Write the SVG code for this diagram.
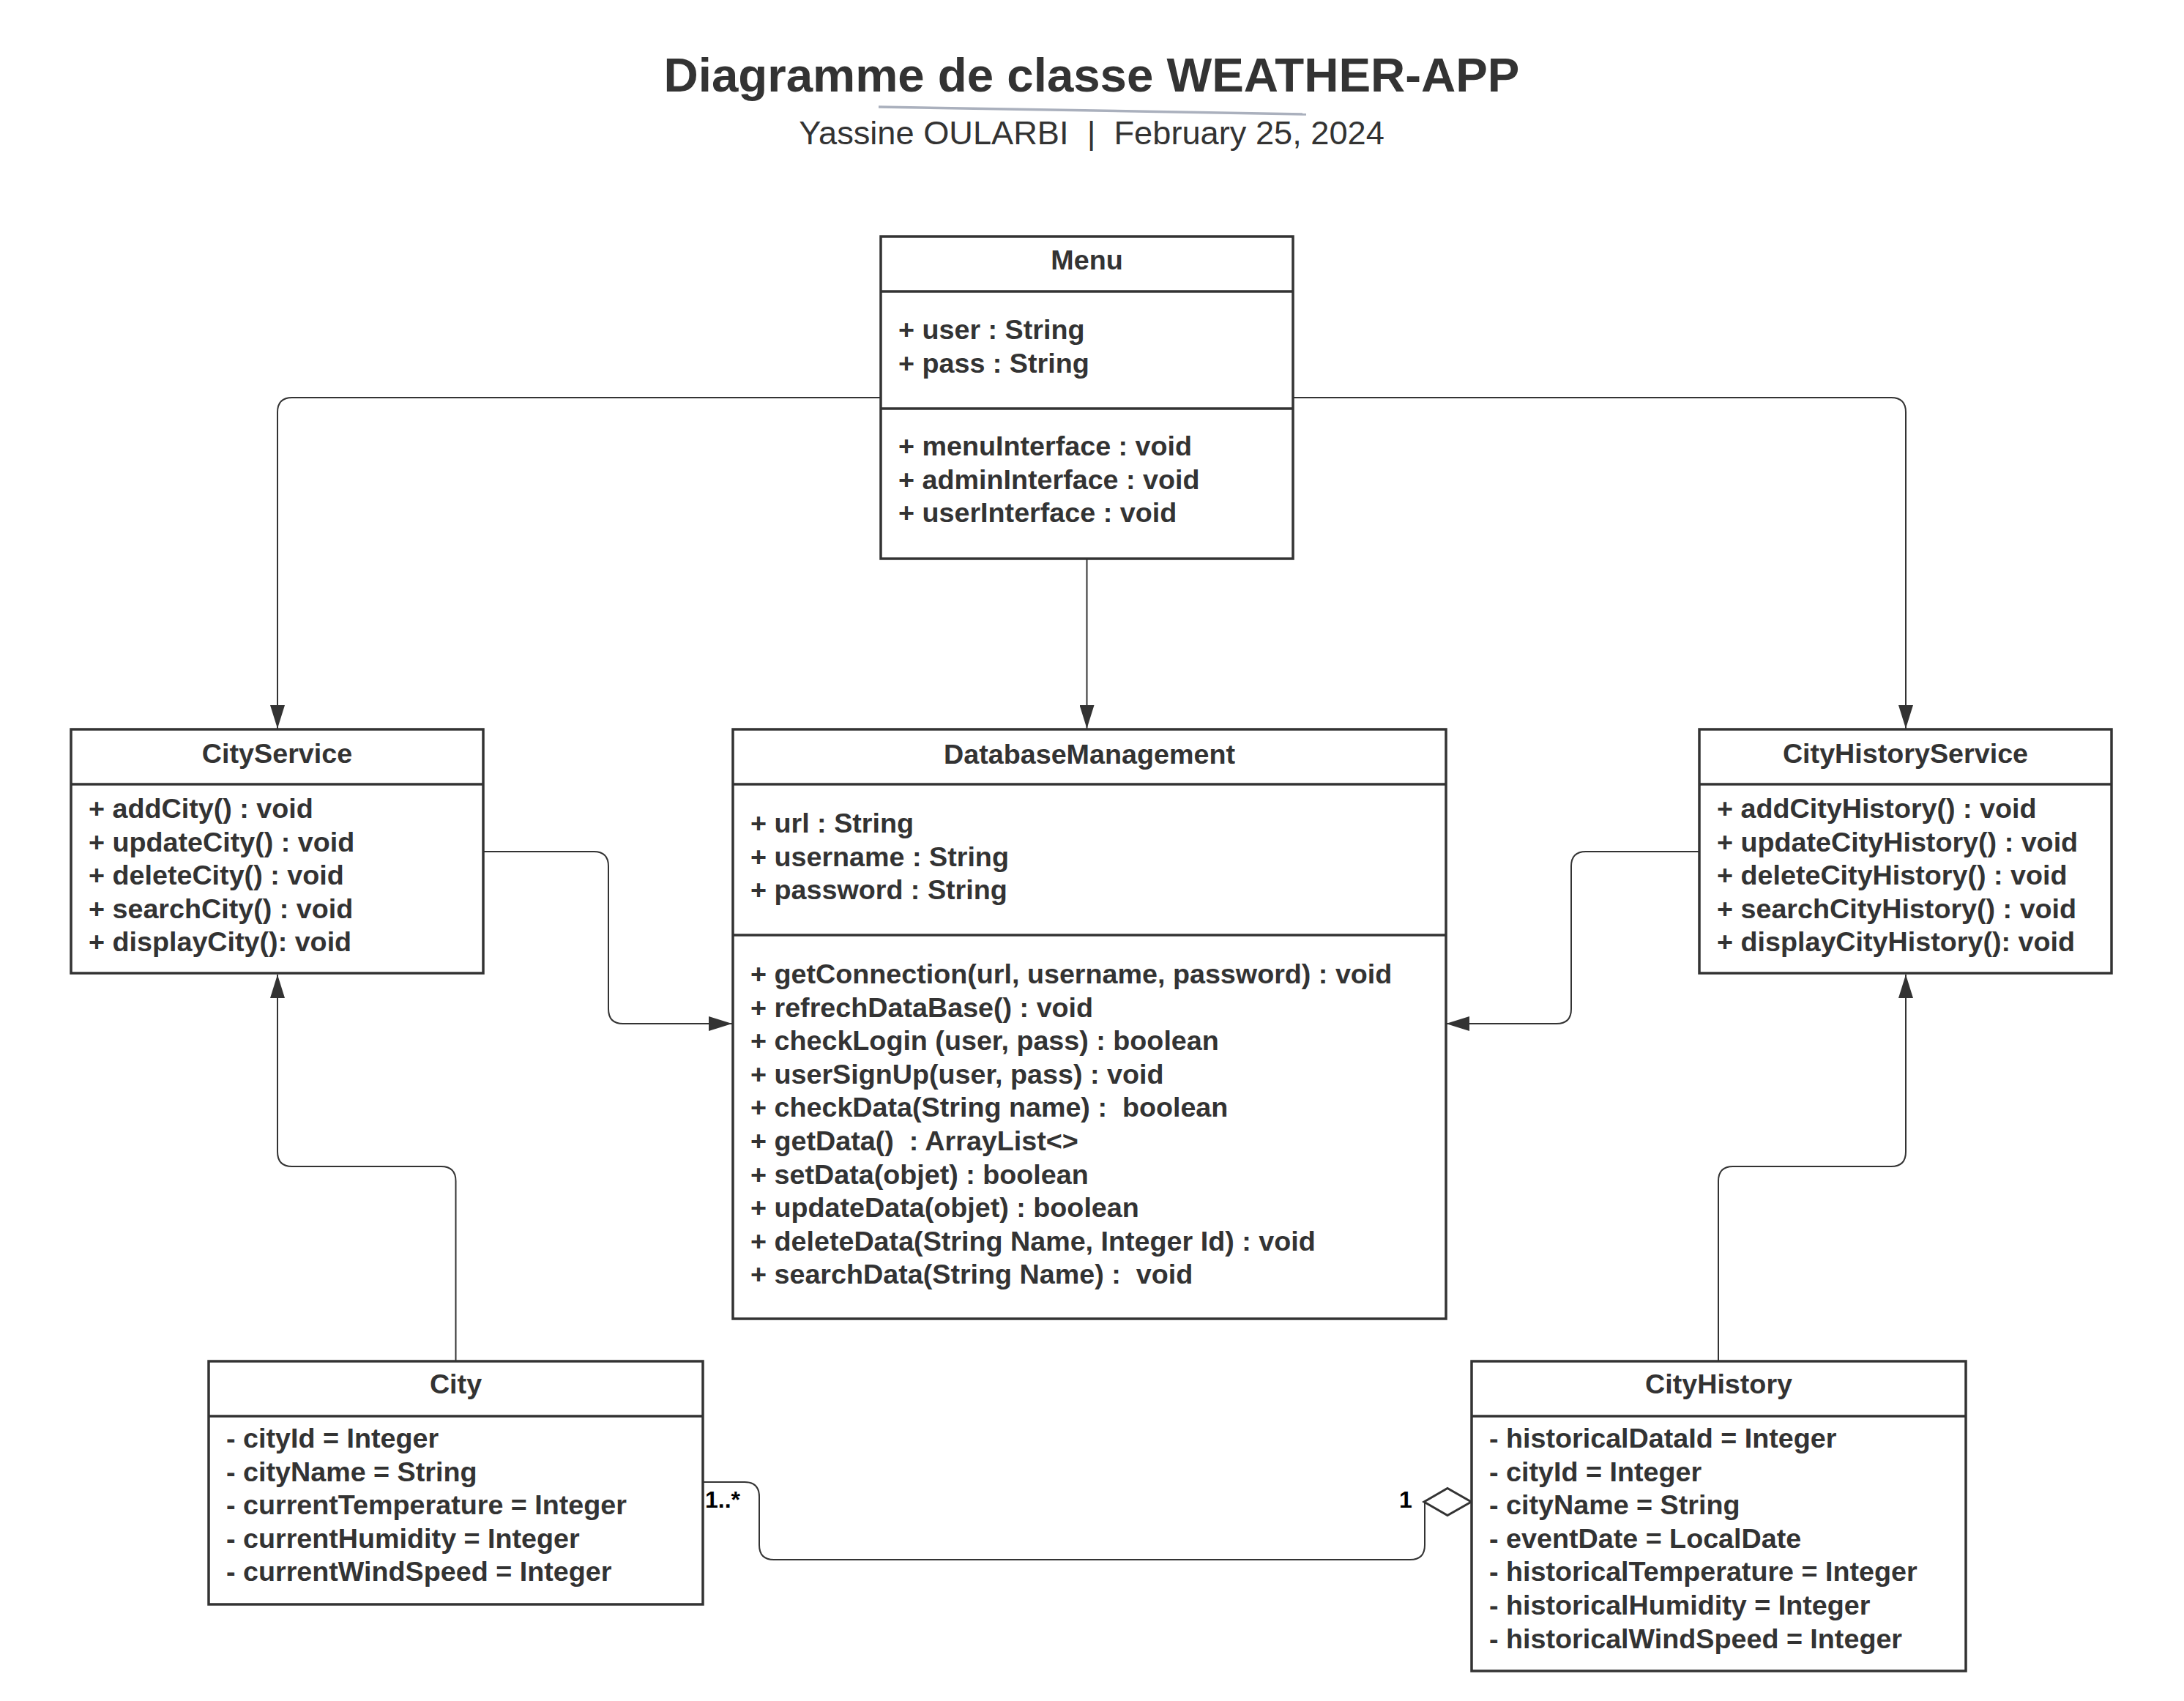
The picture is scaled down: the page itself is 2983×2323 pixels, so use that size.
<svg xmlns="http://www.w3.org/2000/svg" width="2983" height="2323" viewBox="0 0 2983 2323">
<style>
.box{fill:#ffffff;stroke:#333333;stroke-width:3.5}
.div{stroke:#333333;stroke-width:3.5}
.t{font-family:"Liberation Sans",Arial,sans-serif;font-weight:bold;font-size:37.7px;fill:#333333;white-space:pre}
.h{text-anchor:middle}
.con{fill:none;stroke:#333333;stroke-width:2}
.lbl{font-family:"Liberation Sans",Arial,sans-serif;font-weight:bold;font-size:32px;fill:#000000}
</style>
<defs>
<marker id="arr" viewBox="0 0 32 20" refX="32" refY="10" markerWidth="32" markerHeight="20" markerUnits="userSpaceOnUse" orient="auto">
<path d="M0,0 L32,10 L0,20 z" fill="#333333"/>
</marker>
</defs>
<rect width="2983" height="2323" fill="#ffffff"/>
<g id="title">
<text x="1491" y="125" text-anchor="middle" style="font-family:'Liberation Sans',Arial,sans-serif;font-weight:bold;font-size:65.4px;fill:#333333">Diagramme de classe WEATHER-APP</text>
<line x1="1200" y1="146" x2="1784" y2="156" stroke="#aab0bd" stroke-width="3.5"/>
<text x="1491" y="197" text-anchor="middle" style="font-family:'Liberation Sans',Arial,sans-serif;font-size:45.2px;fill:#333333;white-space:pre">Yassine OULARBI  |  February 25, 2024</text>
</g>
<g id="connectors">
<path class="con" d="M1203,543 H399 Q379,543 379,563 V995" marker-end="url(#arr)"/>
<path class="con" d="M1766,543 H2583 Q2603,543 2603,563 V995" marker-end="url(#arr)"/>
<path class="con" d="M1484.5,763 V995" marker-end="url(#arr)"/>
<path class="con" d="M660,1163 H811 Q831,1163 831,1183 V1378 Q831,1398 851,1398 H1000" marker-end="url(#arr)"/>
<path class="con" d="M2321,1163 H2166 Q2146,1163 2146,1183 V1378 Q2146,1398 2126,1398 H1975" marker-end="url(#arr)"/>
<path class="con" d="M622.5,1859 V1613 Q622.5,1593 602.5,1593 H399 Q379,1593 379,1573 V1331" marker-end="url(#arr)"/>
<path class="con" d="M2347,1859 V1613 Q2347,1593 2367,1593 H2583 Q2603,1593 2603,1573 V1331" marker-end="url(#arr)"/>
<path class="con" d="M960,2024 H1017 Q1037,2024 1037,2044 V2110 Q1037,2130 1057,2130 H1926 Q1946,2130 1946,2110 V2051"/>
<polygon points="1945,2051 1977,2032.5 2009.5,2051 1977,2069.5" fill="#ffffff" stroke="#333333" stroke-width="3"/>
<text class="lbl" x="963" y="2059">1..*</text>
<text class="lbl" x="1911" y="2059">1</text>
</g>
<g id="Menu">
<rect class="box" x="1203" y="323" width="563" height="440"/>
<line class="div" x1="1203" y1="398" x2="1766" y2="398"/>
<line class="div" x1="1203" y1="558" x2="1766" y2="558"/>
<text class="t h" x="1484.5" y="368">Menu</text>
<text class="t" y="463"><tspan x="1227">+ user : String</tspan><tspan x="1227" dy="45.6">+ pass : String</tspan></text>
<text class="t" y="622"><tspan x="1227">+ menuInterface : void</tspan><tspan x="1227" dy="45.6">+ adminInterface : void</tspan><tspan x="1227" dy="45.6">+ userInterface : void</tspan></text>
</g>
<g id="CityService">
<rect class="box" x="97" y="996" width="563" height="333"/>
<line class="div" x1="97" y1="1071" x2="660" y2="1071"/>
<text class="t h" x="378.5" y="1042">CityService</text>
<text class="t" y="1117"><tspan x="121">+ addCity() : void</tspan><tspan x="121" dy="45.6">+ updateCity() : void</tspan><tspan x="121" dy="45.6">+ deleteCity() : void</tspan><tspan x="121" dy="45.6">+ searchCity() : void</tspan><tspan x="121" dy="45.6">+ displayCity(): void</tspan></text>
</g>
<g id="DatabaseManagement">
<rect class="box" x="1001" y="996" width="974" height="805"/>
<line class="div" x1="1001" y1="1071" x2="1975" y2="1071"/>
<line class="div" x1="1001" y1="1277" x2="1975" y2="1277"/>
<text class="t h" x="1488" y="1043">DatabaseManagement</text>
<text class="t" y="1137"><tspan x="1025">+ url : String</tspan><tspan x="1025" dy="45.6">+ username : String</tspan><tspan x="1025" dy="45.6">+ password : String</tspan></text>
<text class="t" y="1343"><tspan x="1025">+ getConnection(url, username, password) : void</tspan><tspan x="1025" dy="45.6">+ refrechDataBase() : void</tspan><tspan x="1025" dy="45.6">+ checkLogin (user, pass) : boolean</tspan><tspan x="1025" dy="45.6">+ userSignUp(user, pass) : void</tspan><tspan x="1025" dy="45.6">+ checkData(String name) :  boolean</tspan><tspan x="1025" dy="45.6">+ getData()  : ArrayList&lt;&gt;</tspan><tspan x="1025" dy="45.6">+ setData(objet) : boolean</tspan><tspan x="1025" dy="45.6">+ updateData(objet) : boolean</tspan><tspan x="1025" dy="45.6">+ deleteData(String Name, Integer Id) : void</tspan><tspan x="1025" dy="45.6">+ searchData(String Name) :  void</tspan></text>
</g>
<g id="CityHistoryService">
<rect class="box" x="2321" y="996" width="563" height="333"/>
<line class="div" x1="2321" y1="1071" x2="2884" y2="1071"/>
<text class="t h" x="2602.5" y="1042">CityHistoryService</text>
<text class="t" y="1117"><tspan x="2345">+ addCityHistory() : void</tspan><tspan x="2345" dy="45.6">+ updateCityHistory() : void</tspan><tspan x="2345" dy="45.6">+ deleteCityHistory() : void</tspan><tspan x="2345" dy="45.6">+ searchCityHistory() : void</tspan><tspan x="2345" dy="45.6">+ displayCityHistory(): void</tspan></text>
</g>
<g id="City">
<rect class="box" x="285" y="1859" width="675" height="332"/>
<line class="div" x1="285" y1="1934" x2="960" y2="1934"/>
<text class="t h" x="622.5" y="1903">City</text>
<text class="t" y="1977"><tspan x="309">- cityId = Integer</tspan><tspan x="309" dy="45.6">- cityName = String</tspan><tspan x="309" dy="45.6">- currentTemperature = Integer</tspan><tspan x="309" dy="45.6">- currentHumidity = Integer</tspan><tspan x="309" dy="45.6">- currentWindSpeed = Integer</tspan></text>
</g>
<g id="CityHistory">
<rect class="box" x="2010" y="1859" width="675" height="423"/>
<line class="div" x1="2010" y1="1934" x2="2685" y2="1934"/>
<text class="t h" x="2347.5" y="1903">CityHistory</text>
<text class="t" y="1977"><tspan x="2034">- historicalDataId = Integer</tspan><tspan x="2034" dy="45.6">- cityId = Integer</tspan><tspan x="2034" dy="45.6">- cityName = String</tspan><tspan x="2034" dy="45.6">- eventDate = LocalDate</tspan><tspan x="2034" dy="45.6">- historicalTemperature = Integer</tspan><tspan x="2034" dy="45.6">- historicalHumidity = Integer</tspan><tspan x="2034" dy="45.6">- historicalWindSpeed = Integer</tspan></text>
</g>
</svg>
